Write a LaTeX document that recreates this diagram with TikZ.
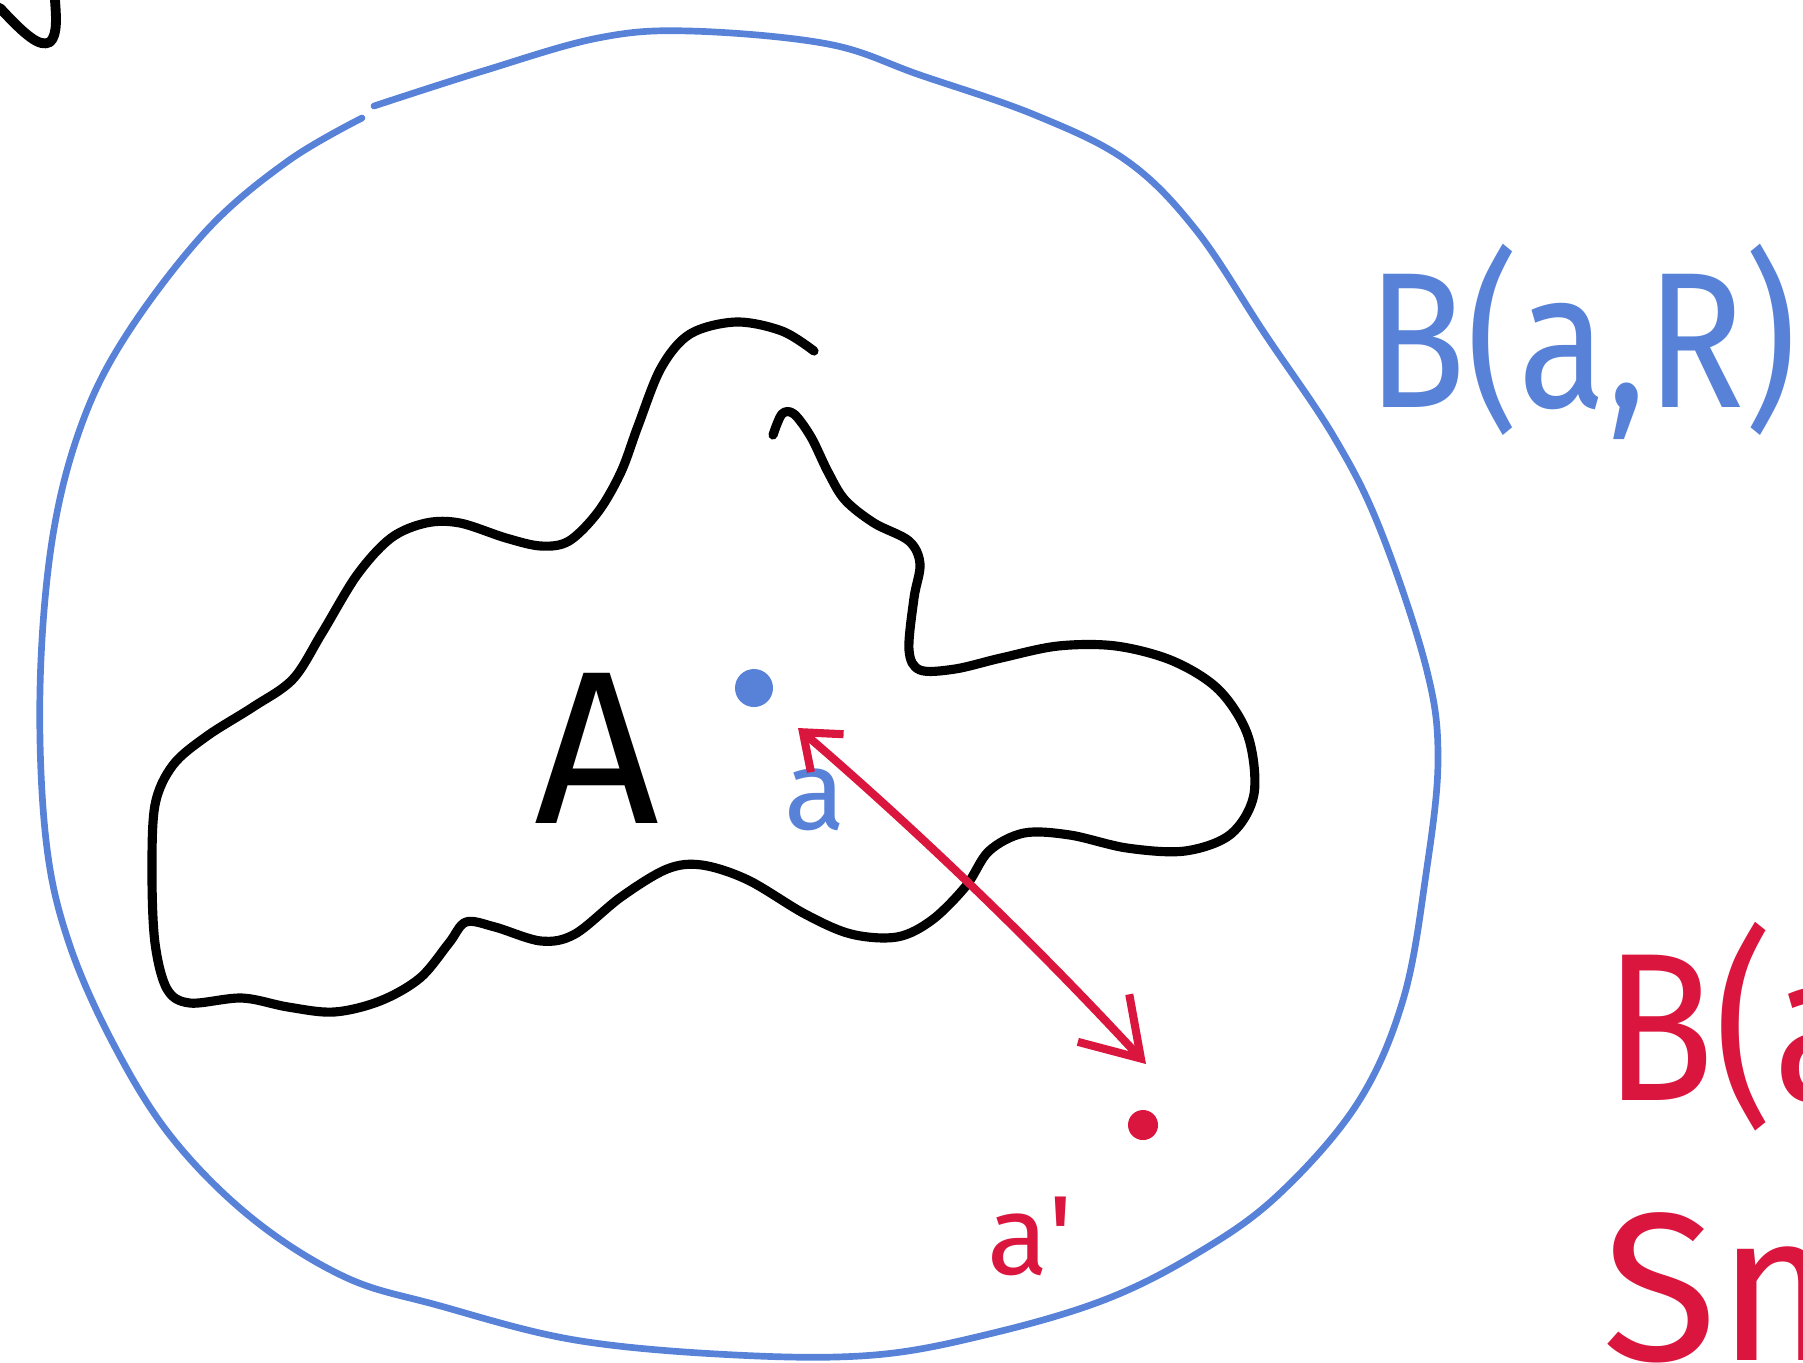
\documentclass[tikz,border=0pt]{standalone}
\usepackage{fontspec}
\setmainfont{Fira Sans}
\usepackage{tikz}
\usetikzlibrary{arrows.meta,positioning}
\definecolor{inkblue}{RGB}{88,130,216}
\definecolor{inkred}{RGB}{218,22,62}

\tikzset{
  blackink/.style={line width=2.6pt, line cap=round, line join=round},
  blueink/.style={inkblue, line width=1.9pt, line cap=round},
  redink/.style={inkred, line width=2.3pt, line cap=round},
  bluedot/.style={circle, fill=inkblue, inner sep=0pt, minimum size=0.38cm},
  reddot/.style={circle, fill=inkred, inner sep=0pt, minimum size=0.3cm},
}
\newcommand{\bigink}{\fontsize{55pt}{60pt}\selectfont}
\newcommand{\smallink}{\fontsize{32pt}{36pt}\selectfont}

\begin{document}
\begin{tikzpicture}[x=0.01cm, y=-0.01cm]
        \useasboundingbox (0,0) rectangle (1803,1362);
        \clip (0,0) rectangle (1803,1362);

        % stroke cut at the corner
        \draw[blackink, line width=2.8pt] (0,8) .. controls (25,35) and (40,48) .. (50,42) .. controls (58,35) and (56,15) .. (55,0);

        % the ball B(a,R)
        \draw[blueink] plot[smooth, tension=0.6] coordinates {
          (374,106) (483,71) (598,38) (690,31) (828,44) (920,75) (1035,115)
          (1127,161) (1196,230) (1265,334) (1334,437) (1380,529) (1426,667)
          (1438,759) (1426,874) (1403,1000) (1357,1104) (1277,1196) (1196,1254)
          (1104,1300) (989,1334) (874,1355) (736,1355) (575,1340) (437,1305)
          (345,1277) (253,1219) (173,1139) (115,1047) (69,943) (46,840)
          (40,690) (52,541) (81,426) (127,334) (207,230) (288,161) (362,118)};

        % the set A
        \draw[blackink] plot[smooth, tension=0.55] coordinates {
          (814,351) (782,331) (736,322) (690,334) (661,368) (638,426) (621,472)
          (598,512) (569,541) (541,546) (506,538) (460,523) (426,523) (391,538)
          (357,575) (322,633) (293,679) (253,707) (207,736) (173,765) (155,805)
          (152,874) (155,943) (167,989) (190,1003) (242,998) (288,1007) (334,1012)
          (380,1001) (420,978) (449,943) (466,922) (495,927) (541,941) (575,934)
          (621,897) (667,869) (702,865) (748,880) (805,914) (851,934) (897,937)
          (932,920) (966,886) (989,851) (1024,833) (1070,835) (1127,848) (1185,851)
          (1231,834) (1254,794) (1248,736) (1219,690) (1173,661) (1116,646)
          (1058,646) (1001,658) (955,669) (920,670) (909,650) (914,598) (920,564)
          (909,541) (874,523) (845,500) (828,472) (811,437) (794,414) (782,414)
          (773,435)};

        \node (A) at (597,748) {\fontsize{62pt}{66pt}\selectfont A};

        \node[bluedot] (a) at (754,688) {};
        \node[inkblue] (alabel) at (815,800) {\smallink a};

        \node[reddot] (ap) at (1143,1125) {};
        \node[inkred] (aplabel) at (1030,1236) {\smallink a\textquotesingle};

        \coordinate (tipa) at (798,728);
        \coordinate (tipap) at (1146,1064);
        \draw[redink, {Straight Barb[length=3.2mm, width=5mm]}-{Straight Barb[length=5.5mm, width=7mm]}]
          (tipa) .. controls (920,833) and (1036,945) .. (tipap);

        % labels at the right edge
        \node[inkblue, anchor=west] (ballR) at (1355,342) {\scalebox{0.84}[1]{\bigink B(a,R)}};
        \node[inkred, anchor=west] (ballr) at (1592,1027) {\scalebox{0.86}[1]{\fontsize{60pt}{64pt}\selectfont B(a}};
        \node[inkred, anchor=north west] (small) at (1590,1200) {\fontsize{60pt}{64pt}\selectfont Sm};
\end{tikzpicture}
\end{document}
